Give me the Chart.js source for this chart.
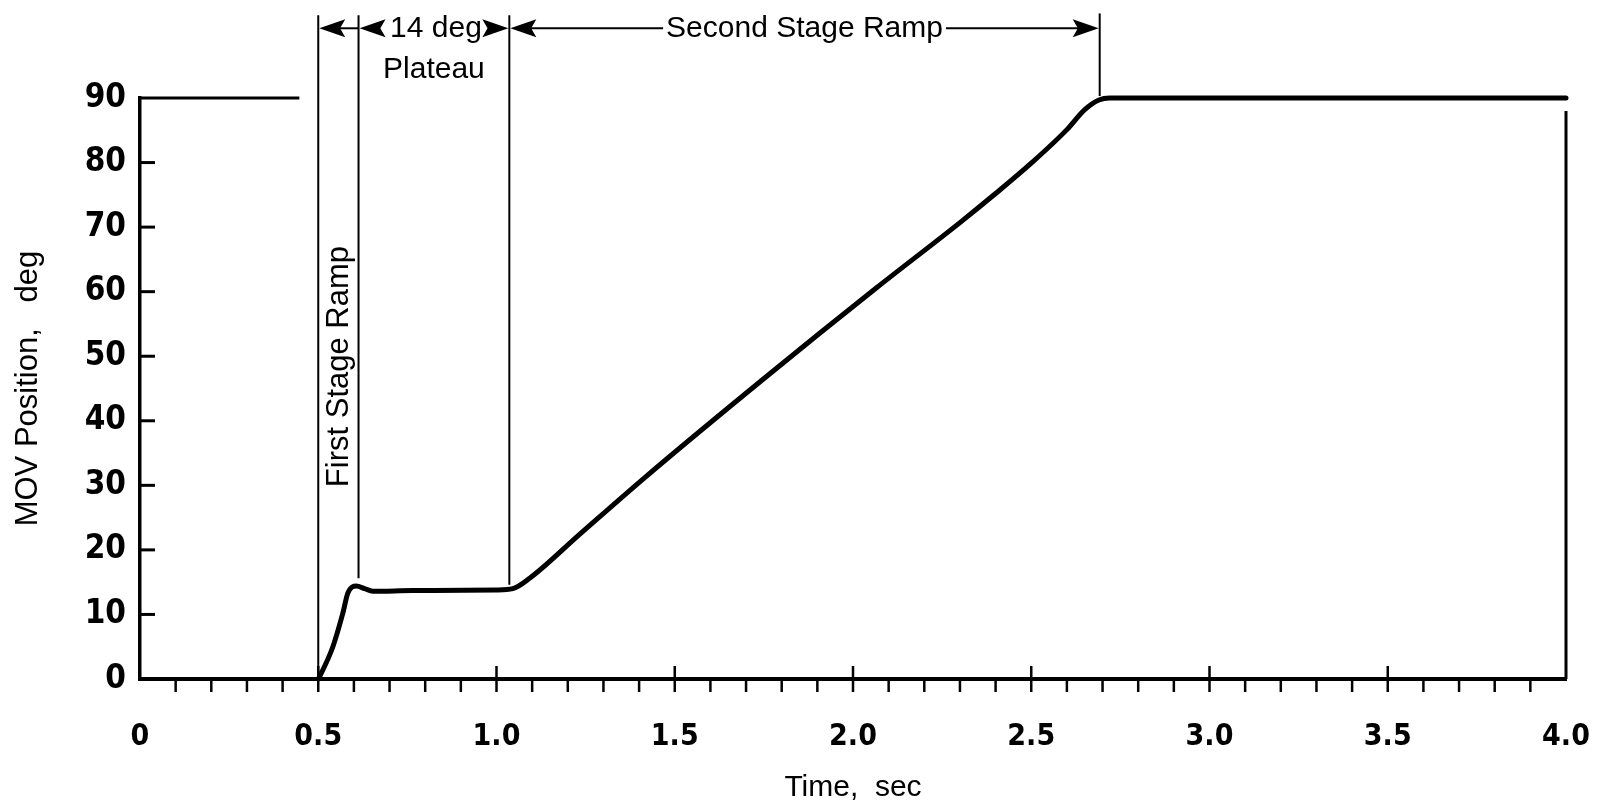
<!DOCTYPE html>
<html><head><meta charset="utf-8">
<script src="https://cdn.jsdelivr.net/npm/chart.js@4"></script>
<style>html,body{margin:0;padding:0;background:#fff}#wrap{width:1608px;height:810px}</style>
</head><body><div id="wrap"><canvas id="c" width="1608" height="810"></canvas></div>
<script>
// ---- data ----
const timeSec = [0.5, 0.504, 0.541, 0.569, 0.583, 0.607, 0.63, 0.653, 0.765, 1.0, 1.046, 1.093, 1.233, 1.42, 1.747, 2.066, 2.3, 2.4, 2.5, 2.6, 2.65, 2.69, 2.72, 4.0];
const movDeg  = [0,   0.4,   5.0,   10.2,  13.3,  14.4,  14.0, 13.6,  13.7,  13.8, 14.0,  15.6,  22.4,  31.4, 46.4,  60.6,  70.7, 75.2, 79.9, 85.1, 88.2, 89.7, 90,   90];
const frameTopTime = [0, 0.447];
const frameTopDeg = [90, 90];
const frameRightTime = [4.0, 4.0];
const frameRightDeg = [0, 88];
const xTickLabels = ['0', '0.5', '1.0', '1.5', '2.0', '2.5', '3.0', '3.5', '4.0'];
const yTickLabels = ['0', '10', '20', '30', '40', '50', '60', '70', '80', '90'];
const markerTimes = [0.5, 0.613, 1.036, 2.692];
const markerTopDeg = [102.8, 102.8, 102.8, 103.1];
const markerBottomDeg = [0, 15.6, 14.6, 90.3];
const arrowDeg = 100.8;
const plateauTextDeg = 94.4;
const firstStageTextDeg = 48.4;
const labelFirstStage = 'First Stage Ramp';
const labelPlateau1 = '14 deg';
const labelPlateau2 = 'Plateau';
const labelSecondStage = 'Second Stage Ramp';

const SANS = '"Liberation Sans", Arial, sans-serif';
const NARROW = '"Liberation Sans Narrow", "DejaVu Sans Condensed", "Liberation Sans", sans-serif';

function arrowHead(ctx, tipX, y, dir) {
  const L = 26, H = 9;
  ctx.beginPath();
  ctx.moveTo(tipX, y);
  ctx.lineTo(tipX + dir * L, y - H);
  ctx.lineTo(tipX + dir * L * 0.8, y);
  ctx.lineTo(tipX + dir * L, y + H);
  ctx.closePath();
  ctx.fill();
}

const annot = {
  id: 'annot',
  afterDraw(chart) {
    const {ctx, scales: {x, y}} = chart;
    ctx.save();
    ctx.strokeStyle = '#000';
    ctx.fillStyle = '#000';
    // y tick marks (inward)
    ctx.lineWidth = 3;
    for (let v = 10; v <= 80; v += 10) {
      const py = y.getPixelForValue(v);
      ctx.beginPath(); ctx.moveTo(x.left, py); ctx.lineTo(x.left + 15, py); ctx.stroke();
    }
    // x tick marks
    ctx.lineWidth = 2.5;
    const base = y.getPixelForValue(0);
    for (let i = 1; i < 40; i++) {
      const px = x.getPixelForValue(i / 10);
      const major = i % 5 === 0;
      ctx.beginPath();
      ctx.moveTo(px, major ? base - 13 : base);
      ctx.lineTo(px, base + 13);
      ctx.stroke();
    }
    // vertical marker lines
    ctx.lineWidth = 2;
    markerTimes.forEach((t, i) => {
      const px = x.getPixelForValue(t);
      ctx.beginPath();
      ctx.moveTo(px, y.getPixelForValue(markerTopDeg[i]));
      ctx.lineTo(px, y.getPixelForValue(markerBottomDeg[i]));
      ctx.stroke();
    });
    const m = markerTimes.map(t => x.getPixelForValue(t));
    const ay = y.getPixelForValue(arrowDeg);
    ctx.lineWidth = 2;
    // first stage arrow
    arrowHead(ctx, m[0] + 1, ay, 1);
    ctx.beginPath(); ctx.moveTo(m[0] + 20, ay); ctx.lineTo(m[1], ay); ctx.stroke();
    // plateau arrows + text
    arrowHead(ctx, m[1] + 1, ay, 1);
    arrowHead(ctx, m[2] - 1, ay, -1);
    ctx.font = '30px ' + SANS;
    ctx.textAlign = 'center';
    ctx.textBaseline = 'middle';
    ctx.fillText(labelPlateau1, (m[1] + m[2]) / 2 + 2, ay);
    ctx.fillText(labelPlateau2, (m[1] + m[2]) / 2, y.getPixelForValue(plateauTextDeg));
    // second stage arrow + text
    const cx = (m[2] + m[3]) / 2;
    const tw = ctx.measureText(labelSecondStage).width;
    arrowHead(ctx, m[2] + 1, ay, 1);
    arrowHead(ctx, m[3] - 1, ay, -1);
    ctx.beginPath();
    ctx.moveTo(m[2] + 20, ay); ctx.lineTo(cx - tw / 2 - 3, ay);
    ctx.moveTo(cx + tw / 2 + 3, ay); ctx.lineTo(m[3] - 20, ay);
    ctx.stroke();
    ctx.fillText(labelSecondStage, cx, ay);
    // first stage vertical text
    ctx.save();
    ctx.translate((m[0] + m[1]) / 2 + 1, y.getPixelForValue(firstStageTextDeg));
    ctx.rotate(-Math.PI / 2);
    ctx.font = '31px ' + SANS;
    ctx.fillText(labelFirstStage, 0, 0);
    ctx.restore();
    ctx.restore();
  }
};

const pts = (xs, ys) => xs.map((t, i) => ({x: t, y: ys[i]}));

new Chart(document.getElementById('c'), {
  type: 'scatter',
  data: {
    datasets: [
      {data: pts(timeSec, movDeg), showLine: true, borderColor: '#000', borderWidth: 5, pointRadius: 0,
       cubicInterpolationMode: 'monotone', clip: false, borderCapStyle: 'round', borderJoinStyle: 'round'},
      {data: pts(frameTopTime, frameTopDeg), showLine: true, borderColor: '#000', borderWidth: 3, pointRadius: 0, clip: false},
      {data: pts(frameRightTime, frameRightDeg), showLine: true, borderColor: '#000', borderWidth: 3, pointRadius: 0, clip: false}
    ]
  },
  options: {
    responsive: false,
    animation: false,
    devicePixelRatio: 1,
    layout: {padding: {left: 0, right: 42, top: 98, bottom: 0}},
    plugins: {legend: {display: false}, tooltip: {enabled: false}},
    scales: {
      x: {
        type: 'linear', min: 0, max: 4,
        ticks: {stepSize: 0.5, autoSkip: false, maxRotation: 0, color: '#000', padding: 40,
                font: {family: NARROW, size: 30, weight: 'bold'},
                callback: (v, i) => xTickLabels[i]},
        grid: {display: false, drawTicks: false},
        border: {display: true, color: '#000', width: 4},
        title: {display: true, text: 'Time,  sec', color: '#000', font: {family: SANS, size: 30}, padding: {top: 0, bottom: 4}},
        afterFit: s => { s.height = 131; s.paddingLeft = 0; s.paddingRight = 0; }
      },
      y: {
        type: 'linear', min: 0, max: 90,
        ticks: {stepSize: 10, color: '#000', padding: 14,
                font: {family: NARROW, size: 33, weight: 'bold'},
                callback: (v, i) => yTickLabels[i]},
        grid: {display: false, drawTicks: false},
        border: {display: true, color: '#000', width: 3.5},
        title: {display: true, text: 'MOV Position,   deg', color: '#000', font: {family: SANS, size: 31}, padding: {top: 10, bottom: 0}},
        afterFit: s => { s.width = 140; s.paddingTop = 0; s.paddingBottom = 0; }
      }
    }
  },
  plugins: [annot]
});
</script>
</body></html>
